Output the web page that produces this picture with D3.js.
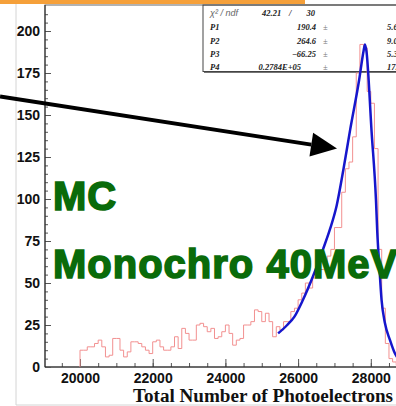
<!DOCTYPE html>
<html>
<head>
<meta charset="utf-8">
<script src="https://cdn.jsdelivr.net/npm/d3@7"></script>
<style>
  body { margin: 0; background: #fff; }
  svg { display: block; }
</style>
</head>
<body>
<svg id="viz"></svg>
<script>

// histogram: 100 p.e. bins starting at 20000
var binStart = 20000;
var binWidth = 100;
var counts = [
  10, 10, 12, 12, 14, 16, 12, 6, 7, 17,
  17, 10, 6, 9, 15, 15, 14, 12, 10, 8,
  15, 16, 12, 10, 10, 12, 18, 11, 23, 20,
  16, 16, 25, 26, 24, 21, 23, 17, 18, 21,
  25, 20, 13, 16, 17, 25, 25, 27, 34, 33,
  27, 32, 27, 18, 24, 22, 27, 27, 33, 35,
  40, 44, 50, 47, 53, 56, 58, 58, 66, 70,
  83, 83, 104, 118, 122, 137, 175, 192, 190, 164,
  157, 130, 70, 35, 14, 5, 3, 1
];

// fit curve
var fitX = [25450, 25700, 25900, 26135, 26410, 26685, 26877, 27060, 27250, 27430,
            27680, 27800, 27840, 27880, 28022, 28143, 28179, 28234, 28296, 28390,
            28528, 28665, 28800];
var fitY = [20, 25, 30, 40, 54, 70, 82, 96, 118, 141,
            171, 188, 192, 188, 140, 99, 80, 60, 40, 26,
            16, 8, 4];

var xTicks = [20000, 22000, 24000, 26000, 28000];
var yTicks = [0, 25, 50, 75, 100, 125, 150, 175, 200];

var parNames = ["P1", "P2", "P3", "P4"];
var parValues = ["190.4", "264.6", "\u221266.25", "0.2784E+05"];
var parErrors = ["5.618", "9.026", "5.372", "17.46"];
var chi2 = "42.21";
var ndf = "30";

var width = 396;
var height = 406;

var frameLeft = 45;
var frameTop = 5;
var frameBottom = 367;

var svg = d3.select("#viz")
  .attr("width", width)
  .attr("height", height);

var x = d3.scaleLinear().domain([20000, 28000]).range([80, 370.8]);
var y = d3.scaleLinear().domain([0, 200]).range([frameBottom, 31]);

// canvas edge + orange strip
svg.append("line")
  .attr("x1", 16).attr("x2", 16).attr("y1", 4).attr("y2", 405)
  .attr("stroke", "#d4d4d4");
svg.append("line")
  .attr("x1", 16).attr("x2", width).attr("y1", 405).attr("y2", 405)
  .attr("stroke", "#d4d4d4");
svg.append("rect")
  .attr("x", 0).attr("y", 0).attr("width", 305).attr("height", 4)
  .attr("fill", "#f5a03a");

// frame
svg.append("rect")
  .attr("x", frameLeft).attr("y", frameTop)
  .attr("width", 400).attr("height", frameBottom - frameTop)
  .attr("fill", "none")
  .attr("stroke", "#666");

// stats box (drawn under the curves)
var stats = svg.append("g").attr("id", "stats");
stats.append("rect")
  .attr("x", 203).attr("y", frameTop)
  .attr("width", 220).attr("height", 66.5)
  .attr("fill", "none")
  .attr("stroke", "#444");
stats.append("line")
  .attr("x1", 204).attr("x2", width).attr("y1", 72).attr("y2", 72)
  .attr("stroke", "#444").attr("stroke-width", 1.5);

// axes
var xMinor = d3.axisBottom(x)
  .tickValues(d3.range(19500, 29500, 500))
  .tickSize(-4).tickSizeOuter(0).tickFormat("");
var xMajor = d3.axisBottom(x)
  .tickValues(xTicks)
  .tickSize(-8).tickSizeOuter(0).tickPadding(6)
  .tickFormat(d3.format("d"));

svg.append("g")
  .attr("transform", "translate(0," + frameBottom + ")")
  .call(xMinor)
  .call(function(g) { g.select(".domain").remove(); });

var xAxis = svg.append("g")
  .attr("transform", "translate(0," + frameBottom + ")")
  .call(xMajor);
xAxis.select(".domain").remove();

svg.append("line")
  .attr("x1", frameLeft).attr("x2", width)
  .attr("y1", frameBottom).attr("y2", frameBottom)
  .attr("stroke", "#222");

var yMinor = d3.axisLeft(y)
  .tickValues(d3.range(0, 215, 5))
  .tickSize(-3).tickSizeOuter(0).tickFormat("");
var yMajor = d3.axisLeft(y)
  .tickValues(yTicks)
  .tickSize(-6).tickSizeOuter(0).tickPadding(5);

svg.append("g")
  .attr("transform", "translate(" + frameLeft + ",0)")
  .call(yMinor)
  .call(function(g) { g.select(".domain").remove(); });

var yAxis = svg.append("g")
  .attr("transform", "translate(" + frameLeft + ",0)")
  .call(yMajor);
yAxis.select(".domain").remove();

svg.append("line")
  .attr("x1", frameLeft).attr("x2", frameLeft)
  .attr("y1", frameTop).attr("y2", frameBottom)
  .attr("stroke", "#222");

svg.selectAll(".tick line").attr("stroke", "#555");
svg.selectAll(".tick text")
  .attr("font-family", "'Liberation Sans', Arial, Helvetica, sans-serif")
  .attr("font-weight", "bold")
  .attr("font-size", 14)
  .attr("fill", "#111");

// axis title
svg.append("text")
  .attr("x", 133).attr("y", 402)
  .attr("font-family", "'Liberation Serif', 'Times New Roman', serif")
  .attr("font-weight", "bold")
  .attr("font-size", 18.5)
  .attr("textLength", 260)
  .attr("lengthAdjust", "spacingAndGlyphs")
  .attr("fill", "#111")
  .text("Total Number of Photoelectrons");

// histogram
var histPts = [[binStart, 0]];
counts.forEach(function(c, i) {
  histPts.push([binStart + i * binWidth, c]);
});
var lastEdge = binStart + counts.length * binWidth;
histPts.push([lastEdge, counts[counts.length - 1]]);
histPts.push([lastEdge, 0]);

var stepLine = d3.line()
  .x(function(d) { return x(d[0]); })
  .y(function(d) { return y(d[1]); })
  .curve(d3.curveStepAfter);

svg.append("path")
  .attr("d", stepLine(histPts))
  .attr("fill", "none")
  .attr("stroke", "#f29090")
  .attr("stroke-width", 1);

// fit
var fitPts = fitX.map(function(v, i) { return [v, fitY[i]]; });
var fitLine = d3.line()
  .x(function(d) { return x(d[0]); })
  .y(function(d) { return y(d[1]); })
  .curve(d3.curveMonotoneX);

svg.append("path")
  .attr("d", fitLine(fitPts))
  .attr("fill", "none")
  .attr("stroke", "#1616cc")
  .attr("stroke-width", 2.5);

// stats text
var serif = "'Liberation Serif', 'Times New Roman', serif";
stats.append("text")
  .attr("x", 210).attr("y", 16)
  .attr("font-family", "'Liberation Sans', Arial, sans-serif")
  .attr("font-style", "italic")
  .attr("font-size", 9)
  .attr("fill", "#666")
  .text("\u03c7\u00b2 / ndf");
stats.append("text")
  .attr("x", 262).attr("y", 16)
  .attr("font-family", serif).attr("font-style", "italic").attr("font-weight", "bold")
  .attr("font-size", 8.5).attr("fill", "#222")
  .text(chi2);
stats.append("text")
  .attr("x", 289).attr("y", 16)
  .attr("font-family", serif).attr("font-style", "italic").attr("font-weight", "bold")
  .attr("font-size", 8.5).attr("fill", "#222")
  .text("/");
stats.append("text")
  .attr("x", 315).attr("y", 16)
  .attr("text-anchor", "end")
  .attr("font-family", serif).attr("font-style", "italic").attr("font-weight", "bold")
  .attr("font-size", 8.5).attr("fill", "#222")
  .text(ndf);

var rowY = [30, 43.5, 57, 69.5];
var rows = stats.selectAll("g.row")
  .data(parNames)
  .enter().append("g")
  .attr("class", "row")
  .attr("font-family", serif)
  .attr("font-style", "italic")
  .attr("font-weight", "bold")
  .attr("font-size", 8.5)
  .attr("fill", "#222");

rows.append("text")
  .attr("x", 210)
  .attr("y", function(d, i) { return rowY[i]; })
  .text(function(d) { return d; });
rows.append("text")
  .attr("x", function(d, i) { return i === 3 ? 301 : 316; })
  .attr("y", function(d, i) { return rowY[i]; })
  .attr("text-anchor", "end")
  .text(function(d, i) { return parValues[i]; });
rows.append("text")
  .attr("x", 323)
  .attr("y", function(d, i) { return rowY[i]; })
  .attr("font-weight", "normal")
  .attr("fill", "#777")
  .text("\u00b1");
rows.append("text")
  .attr("x", 387)
  .attr("y", function(d, i) { return rowY[i]; })
  .text(function(d, i) { return parErrors[i]; });

// arrow annotation (in data coordinates)
var arrowFrom = [17800, 161];
var arrowTo = [27070, 130];
var ax0 = x(arrowFrom[0]), ay0 = y(arrowFrom[1]);
var ax1 = x(arrowTo[0]), ay1 = y(arrowTo[1]);
var len = Math.hypot(ax1 - ax0, ay1 - ay0);
var ux = (ax1 - ax0) / len, uy = (ay1 - ay0) / len;
var headLen = 26, headHalf = 12;
var bx = ax1 - ux * headLen, by = ay1 - uy * headLen;

svg.append("line")
  .attr("x1", ax0).attr("y1", ay0)
  .attr("x2", bx).attr("y2", by)
  .attr("stroke", "#000").attr("stroke-width", 4);
svg.append("path")
  .attr("d", "M" + ax1 + "," + ay1 +
             "L" + (bx - uy * headHalf) + "," + (by + ux * headHalf) +
             "L" + (bx + uy * headHalf) + "," + (by - ux * headHalf) + "Z")
  .attr("fill", "#000");

// green labels
var green = "#0a6b0a";
svg.selectAll("text.big")
  .data([["MC", 210], ["Monochro 40MeV", 278]])
  .enter().append("text")
  .attr("class", "big")
  .attr("x", 53)
  .attr("y", function(d) { return d[1]; })
  .attr("font-family", "'Liberation Sans', Arial, Helvetica, sans-serif")
  .attr("font-weight", "bold")
  .attr("font-size", 40)
  .attr("letter-spacing", 1)
  .attr("fill", green)
  .attr("stroke", green)
  .attr("stroke-width", 1.6)
  .text(function(d) { return d[0]; });

</script>
</body>
</html>
